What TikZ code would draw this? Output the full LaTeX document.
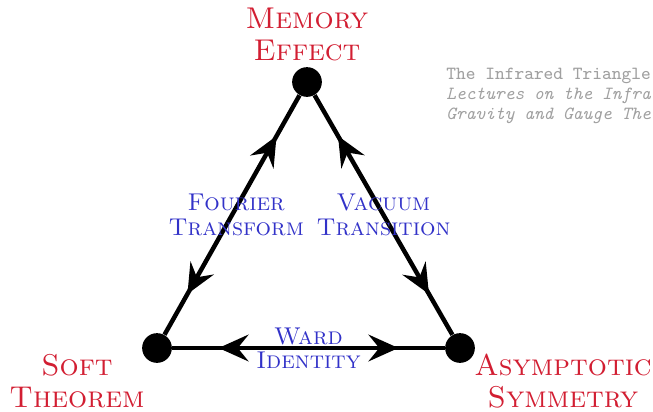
\documentclass[tikz,border=0pt]{standalone}
\usepackage{fontspec}
\usepackage{tikz}
\usetikzlibrary{arrows.meta,decorations.markings,positioning}
\definecolor{effectred}{RGB}{210,30,50}
\definecolor{linkblue}{RGB}{50,50,200}
\definecolor{notegray}{RGB}{160,160,160}
\tikzstyle{vertex}=[circle, fill=black, inner sep=0pt, minimum size=4.9mm]
\tikzstyle{redlabel}=[align=center, text=effectred, inner sep=0pt, font=\fontsize{14.1pt}{15pt}\selectfont\scshape]
\tikzstyle{bluelabel}=[align=center, text=linkblue, inner sep=0pt, font=\fontsize{11.4pt}{11.4pt}\selectfont\scshape]
\tikzstyle{twoway}=[line width=2.1pt, decoration={markings,
  mark=at position 0.17 with {\arrowreversed{Stealth[length=14pt,width=12.5pt,inset=5pt]}},
  mark=at position 0.83 with {\arrow{Stealth[length=14pt,width=12.5pt,inset=5pt]}}},
  postaction={decorate}]

\begin{document}
\begin{tikzpicture}[x=0.0165cm, y=-0.0165cm]
\useasboundingbox (0,0) rectangle (653,411);

\node[vertex] (memory) at (307,82) {};
\node[vertex] (soft) at (157,348) {};
\node[vertex] (asym) at (460,348) {};

\node[redlabel] (memory-l) at (307,34) {Memory\\Effect};
\node[redlabel] (soft-l) at (77,381) {Soft\\Theorem};
\node[redlabel] (asym-l) at (563,381) {Asymptotic\\Symmetry};

\node[anchor=north west, align=left, inner sep=0pt, text=notegray, font=\fontsize{8.7pt}{9.3pt}\selectfont\ttfamily] (note) at (446,68) {The Infrared Triangle\\\textit{Lectures on the Infra}\\\textit{Gravity and Gauge The}};

\draw[twoway] (memory) -- node[bluelabel, midway, xshift=2pt] (fourier) {Fourier\\Transform} (soft);
\draw[twoway] (memory) -- node[bluelabel, midway] (vacuum) {Vacuum\\Transition} (asym);
\draw[twoway] (soft) -- node[bluelabel, midway] (ward) {Ward\\Identity} (asym);

\end{tikzpicture}
\end{document}
